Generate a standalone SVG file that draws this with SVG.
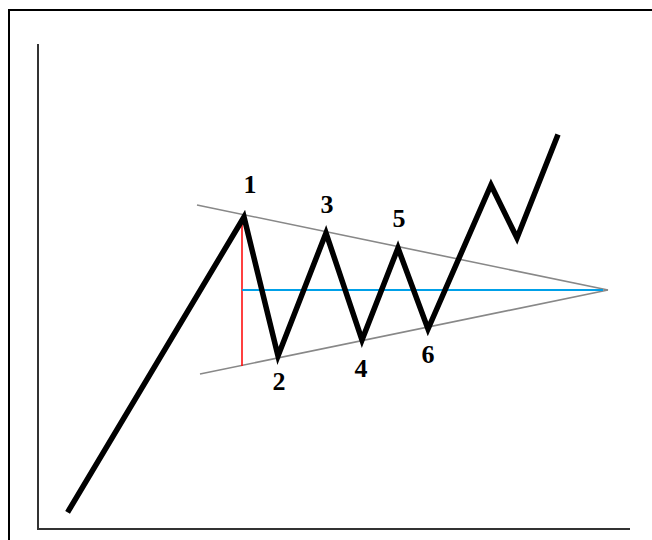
<svg xmlns="http://www.w3.org/2000/svg" width="652" height="540" viewBox="0 0 652 540">
<style>
.frame{fill:none;stroke:#000;stroke-width:2}
.axis{fill:none;stroke:#333;stroke-width:2}
.trend{fill:none;stroke:#888;stroke-width:1.6}
.price{fill:none;stroke:#000;stroke-width:5.5;stroke-linejoin:miter;stroke-linecap:square}
.lbl{font-family:"Liberation Serif",serif;font-weight:bold;font-size:26px;fill:#000;text-anchor:middle}
</style>
<rect width="652" height="540" fill="#fff"/>
<path class="frame" d="M9,545 V10 H660"/>
<g id="axes">
<path class="axis" d="M38,44 V529 H630"/>
</g>
<g id="connectors">
<line class="trend" x1="197" y1="205" x2="608" y2="290"/>
<line class="trend" x1="200" y1="374" x2="608" y2="290"/>
<line x1="242" y1="217" x2="242" y2="366" stroke="#ff0000" stroke-width="1.5"/>
<line x1="242" y1="290" x2="603" y2="290" stroke="#00a0e8" stroke-width="1.8"/>
<polyline class="price" points="69,510 244,217 278,356 326,233 362,340 398,248 428,329 491,185 517,238 557,137"/>
</g>
<g id="n1"><text class="lbl" x="250" y="193">1</text></g>
<g id="n2"><text class="lbl" x="279" y="390">2</text></g>
<g id="n3"><text class="lbl" x="327" y="213">3</text></g>
<g id="n4"><text class="lbl" x="361" y="377">4</text></g>
<g id="n5"><text class="lbl" x="399" y="227">5</text></g>
<g id="n6"><text class="lbl" x="428" y="363">6</text></g>
</svg>
